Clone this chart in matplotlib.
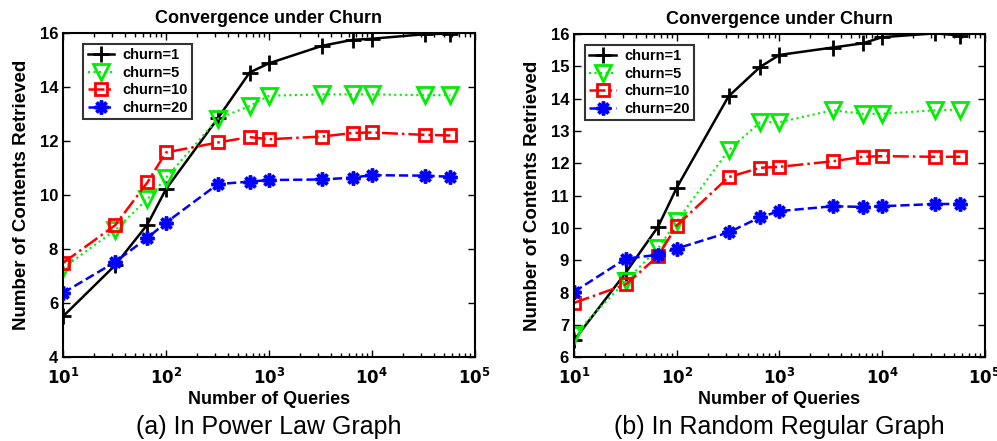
import matplotlib
import matplotlib.pyplot as plt
import numpy as np

matplotlib.use('Agg')

plt.rcParams['font.family'] = ['Liberation Sans', 'DejaVu Sans']

queries = [10, 32, 66, 100, 320, 650, 1000, 3300, 6500, 10000, 33000, 58000]

# (a) power law graph
pl_churn1 = [5.51, 7.40, 8.91, 10.22, 12.85, 14.54, 14.88, 15.53, 15.75, 15.79, 15.96, 15.98]
pl_churn5 = [7.30, 8.70, 9.85, 10.64, 12.83, 13.30, 13.68, 13.73, 13.73, 13.73, 13.70, 13.70]
pl_churn10 = [7.49, 8.88, 10.47, 11.58, 11.95, 12.15, 12.07, 12.17, 12.30, 12.32, 12.23, 12.21]
pl_churn20 = [6.38, 7.52, 8.42, 8.98, 10.41, 10.50, 10.56, 10.58, 10.65, 10.74, 10.72, 10.68]

# (b) random regular graph
rr_churn1 = [6.52, 8.62, 10.04, 11.24, 14.07, 14.98, 15.35, 15.58, 15.71, 15.90, 16.02, 15.95]
rr_churn5 = [6.70, 8.36, 9.37, 10.20, 12.40, 13.27, 13.27, 13.64, 13.53, 13.53, 13.64, 13.66]
rr_churn10 = [7.68, 8.25, 9.13, 10.07, 11.57, 11.86, 11.89, 12.06, 12.20, 12.22, 12.20, 12.20]
rr_churn20 = [8.02, 9.05, 9.17, 9.36, 9.86, 10.33, 10.52, 10.67, 10.65, 10.67, 10.74, 10.74]

labels = ['churn=1', 'churn=5', 'churn=10', 'churn=20']
xtick_labels = [r'$\mathbf{10^{%d}}$' % k for k in range(1, 6)]


def draw(ax, series, ylim, yticks, caption, leg_x):
    c1, c5, c10, c20 = series
    ax.plot(queries, c1, color='black', ls='-', lw=1.8, marker='+', ms=11, mew=2, label=labels[0])
    ax.plot(queries, c5, color='#00ee00', ls=':', lw=1.5, marker='v', ms=12, mew=2,
            mfc='none', label=labels[1])
    ax.plot(queries, c10, color='red', ls='-.', lw=1.8, marker='s', ms=9, mew=2,
            mfc='none', label=labels[2])
    ax.plot(queries, c20, color='blue', ls='--', lw=1.8, marker=(8, 2, 0), ms=10, mew=2.5,
            label=labels[3])
    ax.set_xscale('log')
    ax.set_xlim(10, 1e5)
    ax.set_ylim(ylim)
    ax.set_yticks(yticks)
    ax.set_yticklabels([str(t) for t in yticks], fontweight='bold', fontsize=12)
    ax.set_xticks([10, 100, 1000, 10000, 100000])
    ax.set_xticklabels(xtick_labels, fontsize=12)
    ax.tick_params(which='both', direction='in', top=True, right=True)
    ax.tick_params(which='major', length=5, width=1)
    ax.tick_params(which='minor', length=3, width=1)
    ax.tick_params(axis='x', pad=7)
    for s in ax.spines.values():
        s.set_linewidth(1.5)
    ax.set_title('Convergence under Churn', fontweight='bold', fontsize=13, pad=7)
    ax.set_xlabel('Number of Queries', fontweight='bold', fontsize=13, labelpad=3)
    ax.set_ylabel('Number of Contents Retrieved', fontweight='bold', fontsize=13.5, labelpad=7)
    leg = ax.legend(loc='upper left', bbox_to_anchor=(leg_x, 0.967), fancybox=False,
                    edgecolor='black', prop={'weight': 'bold', 'size': 10.5},
                    handlelength=1.8, handletextpad=0.6, labelspacing=0.25,
                    borderpad=0.3, borderaxespad=0)
    leg.get_frame().set_linewidth(1.5)
    ax.text(0.5, -0.215, caption, transform=ax.transAxes, ha='center', va='center', fontsize=18)


fig = plt.figure(figsize=(9.97, 4.41), dpi=100)
ax1 = fig.add_axes([0.0632, 0.190, 0.413, 0.735])
ax2 = fig.add_axes([0.5757, 0.190, 0.412, 0.733])

draw(ax1, (pl_churn1, pl_churn5, pl_churn10, pl_churn20), (4, 16), [4, 6, 8, 10, 12, 14, 16],
     '(a) In Power Law Graph', 0.049)
draw(ax2, (rr_churn1, rr_churn5, rr_churn10, rr_churn20), (6, 16), list(range(6, 17)),
     '(b) In Random Regular Graph', 0.027)

fig.savefig('out.png', dpi=100)
